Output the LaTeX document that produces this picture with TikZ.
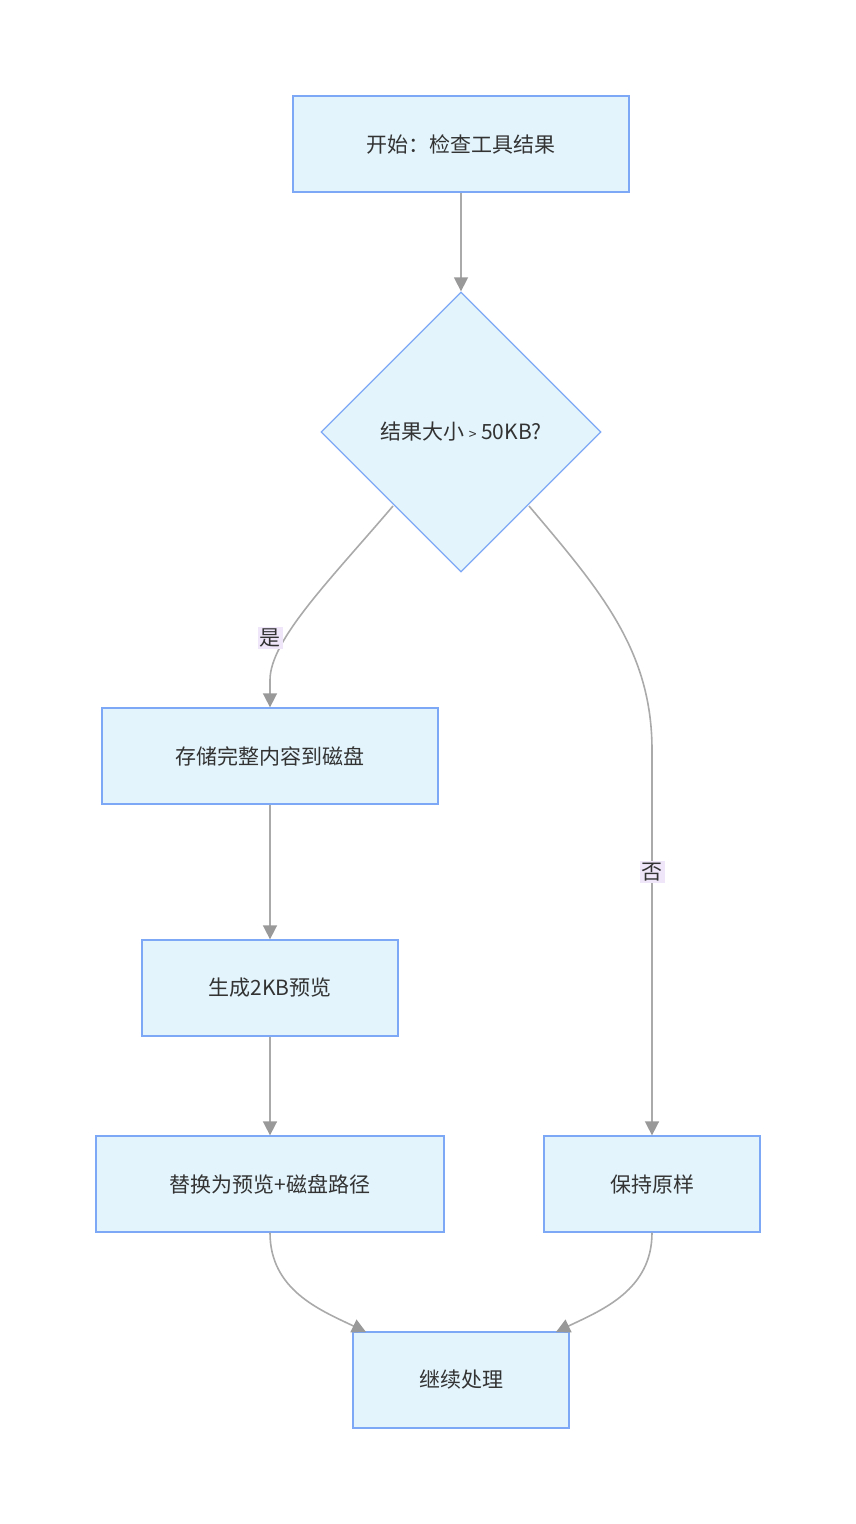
\documentclass[tikz,border=0pt]{standalone}
\usepackage{fontspec}
\setmainfont{Noto Sans CJK SC}
\usetikzlibrary{shapes.geometric,arrows.meta}
\definecolor{bfill}{HTML}{E3F4FC}
\definecolor{bdraw}{HTML}{7DA8F5}
\definecolor{ln}{HTML}{AAAAAA}
\definecolor{lbl}{HTML}{F0E6FA}
\begin{document}
\begin{tikzpicture}[x=1pt,y=-1pt,
 box/.style={draw=bdraw,fill=bfill,line width=1.3pt,minimum height=96pt,inner sep=0pt,font=\fontsize{21}{24}\selectfont,text=black!80},
 dia/.style={diamond,draw=bdraw,fill=bfill,line width=1.3pt,minimum width=280pt,minimum height=280pt,inner sep=0pt,font=\fontsize{21}{24}\selectfont,text=black!80},
 ar/.style={draw=ln,line width=1.6pt,-{Triangle[length=14pt,width=14pt,fill=gray!80,color=gray!80]}},
 lab/.style={fill=lbl,inner sep=2pt,font=\fontsize{21}{24}\selectfont,text=black!80}]
\useasboundingbox (0,0) rectangle (856,1524);
\node[box,minimum width=336pt] (s) at (461,144) {开始：检查工具结果};
\node[dia] (d) at (461,432) {结果大小 \fontsize{14}{16}\selectfont >\fontsize{21}{24}\selectfont{} 50KB?};
\node[box,minimum width=336pt] (st) at (270,756) {存储完整内容到磁盘};
\node[box,minimum width=256pt] (g) at (270,988) {生成2KB预览};
\node[box,minimum width=348pt] (r) at (270,1184) {替换为预览+磁盘路径};
\node[box,minimum width=216pt] (k) at (652,1184) {保持原样};
\node[box,minimum width=216pt] (c) at (461,1380) {继续处理};
\coordinate (dl) at (393,506);
\coordinate (dr) at (529,506);
\draw[ar] (s) -- (d);
\draw[ar] (dl) .. controls (330,580) and (270,640) .. (270,680) -- (st.north);
\draw[ar] (dr) .. controls (600,590) and (652,650) .. (652,750) -- (k.north);
\node[lab] at (270,638) {是};
\node[lab] at (652,872) {否};
\draw[ar] (st) -- (g);
\draw[ar] (g) -- (r);
\draw[ar] (r.south) .. controls (270,1290) and (320,1310) .. (366,1332);
\draw[ar] (k.south) .. controls (652,1290) and (602,1310) .. (556,1332);
\end{tikzpicture}
\end{document}
